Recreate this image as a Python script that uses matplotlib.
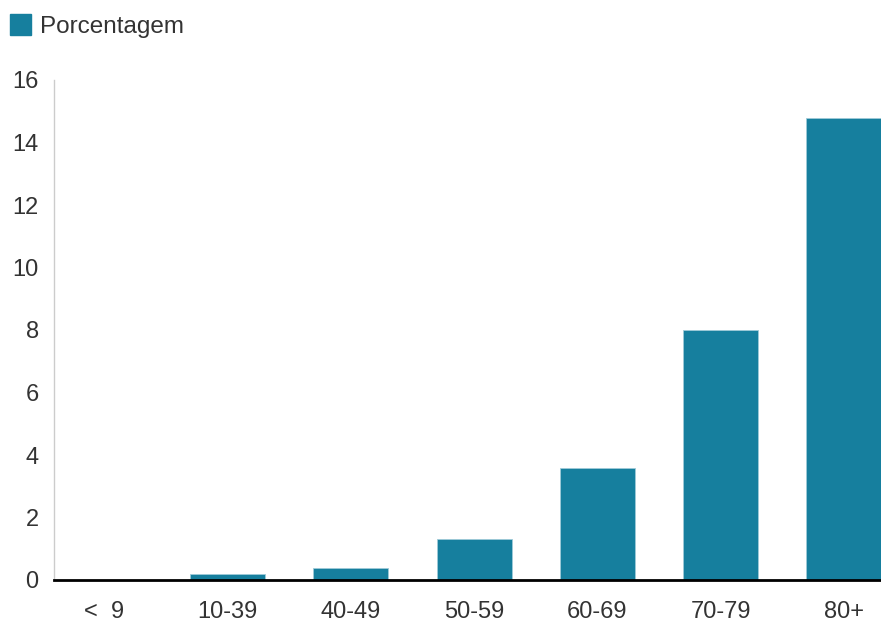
import matplotlib.pyplot as plt
import numpy as np

# faixa etaria vs porcentagem
categories = ["<  9", "10-39", "40-49", "50-59", "60-69", "70-79", "80+"]
values = [0.0, 0.2, 0.4, 1.3, 3.6, 8.0, 14.8]
yticks = [0, 2, 4, 6, 8, 10, 12, 14, 16]

bar_color = "#167f9e"
text_color = "#333333"

plt.rcParams["font.family"] = ["Liberation Sans", "DejaVu Sans"]

fig = plt.figure(figsize=(8.81, 6.23), dpi=100)
ax = fig.add_axes([54 / 881, 43 / 623, 1 - 54 / 881, 500 / 623])

x = np.arange(len(categories))
ax.bar(x, values, width=0.61, color=bar_color, edgecolor="#9fcbd8", linewidth=0.6, zorder=2)

step = 123.2  # px per category
left = -50.5 / step
ax.set_xlim(left, left + (881 - 54) / step)
ax.set_ylim(0, 16)
ax.set_yticks(yticks)
ax.set_xticks(x)
ax.set_xticklabels(categories)
ax.tick_params(axis="both", length=0, labelsize=17, colors=text_color)
ax.tick_params(axis="y", pad=11)
ax.tick_params(axis="x", pad=15)

for s in ["top", "right"]:
    ax.spines[s].set_visible(False)
ax.spines["left"].set_color("#cccccc")
ax.spines["left"].set_linewidth(1)
ax.spines["bottom"].set_color("black")
ax.spines["bottom"].set_linewidth(2)
ax.spines["bottom"].set_zorder(3)

# legenda manual no topo
fig.patches.append(plt.Rectangle((10 / 881, 1 - 35 / 623), 21 / 881, 21 / 623,
                                 transform=fig.transFigure, color=bar_color, figure=fig))
fig.text(40 / 881, 1 - 27.5 / 623, "Porcentagem", fontsize=17.5, color=text_color, va="center", ha="left")

fig.savefig("out.png", dpi=100)
